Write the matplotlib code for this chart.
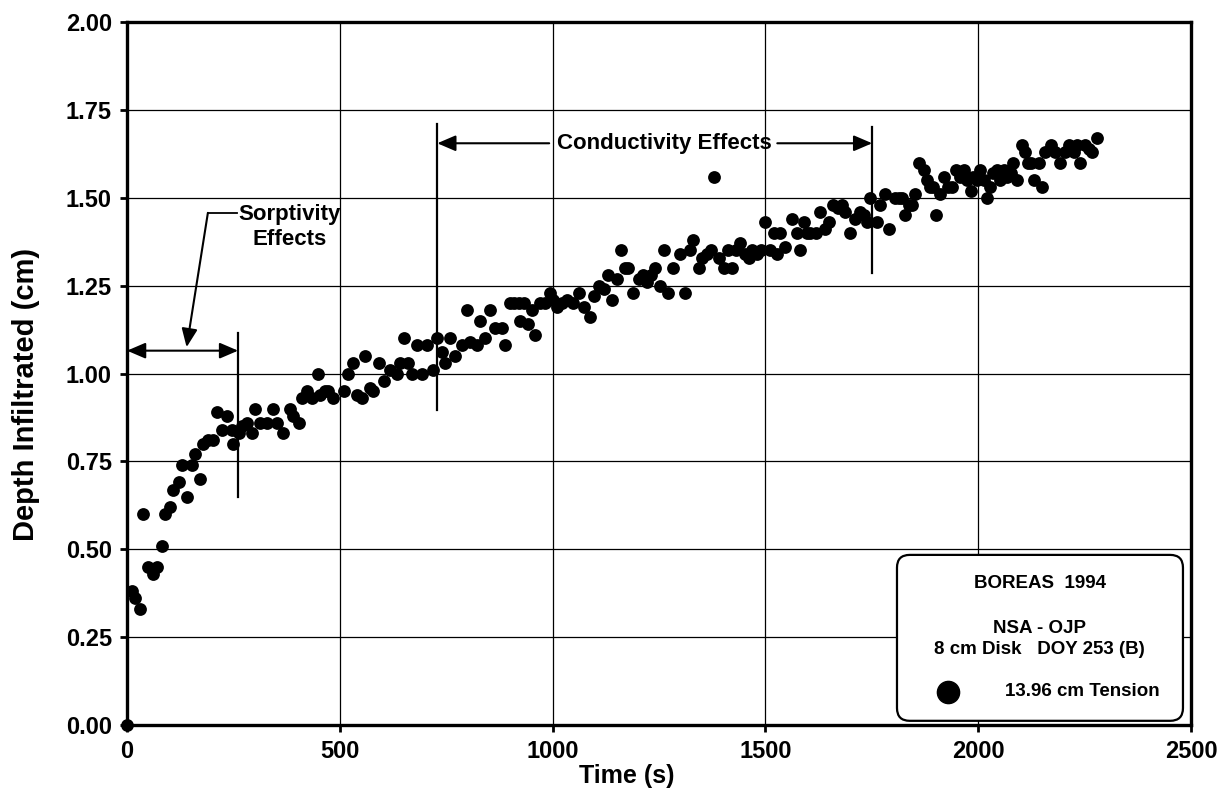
import matplotlib
matplotlib.use("Agg")
import matplotlib.pyplot as plt
from matplotlib.patches import FancyBboxPatch
from matplotlib.lines import Line2D

# --- Dados: infiltração acumulada, disco de 8 cm, DOY 253 ---
time_s = [
    0, 11, 19, 30, 38, 50, 62, 71, 82, 89, 101, 109, 121, 129, 140, 152, 160,
    172, 179, 191, 203, 211, 223, 234, 246, 250, 262, 270, 281, 293, 301, 313,
    328, 343, 352, 367, 383, 391, 403, 411, 422, 434, 449, 454, 465, 472, 485,
    509, 520, 532, 541, 552, 560, 571, 579, 591, 603, 618, 634, 642, 651, 661,
    669, 681, 693, 705, 720, 728, 740, 748, 759, 771, 787, 799, 806, 822, 830,
    842, 852, 865, 881, 889, 900, 910, 920, 924, 932, 943, 951, 959, 971, 982,
    994, 1002, 1010, 1022, 1034, 1048, 1061, 1073, 1088, 1098, 1108, 1120,
    1131, 1139, 1151, 1160, 1170, 1178, 1190, 1202, 1212, 1222, 1232, 1241,
    1253, 1262, 1272, 1284, 1300, 1312, 1322, 1331, 1343, 1352, 1363, 1372,
    1380, 1390, 1402, 1412, 1421, 1430, 1441, 1453, 1462, 1469, 1480, 1490,
    1500, 1512, 1520, 1527, 1535, 1547, 1562, 1574, 1582, 1590, 1598, 1606,
    1618, 1629, 1641, 1649, 1660, 1670, 1680, 1688, 1700, 1710, 1723, 1732,
    1739, 1746, 1762, 1770, 1782, 1790, 1805, 1813, 1821, 1829, 1838, 1845,
    1852, 1860, 1872, 1880, 1888, 1895, 1902, 1911, 1919, 1929, 1939, 1947,
    1957, 1966, 1974, 1982, 1989, 1997, 2005, 2013, 2021, 2028, 2036, 2044,
    2052, 2060, 2068, 2076, 2083, 2091, 2103, 2111, 2118, 2123, 2131, 2142,
    2150, 2158, 2170, 2181, 2193, 2203, 2213, 2225, 2232, 2240, 2252, 2260,
    2268, 2280,
]
depth_cm = [
    0.00, 0.38, 0.36, 0.33, 0.60, 0.45, 0.43, 0.45, 0.51, 0.60, 0.62, 0.67,
    0.69, 0.74, 0.65, 0.74, 0.77, 0.70, 0.80, 0.81, 0.81, 0.89, 0.84, 0.88,
    0.84, 0.80, 0.83, 0.85, 0.86, 0.83, 0.90, 0.86, 0.86, 0.90, 0.86, 0.83,
    0.90, 0.88, 0.86, 0.93, 0.95, 0.93, 1.00, 0.94, 0.95, 0.95, 0.93,
    0.95, 1.00, 1.03, 0.94, 0.93, 1.05, 0.96, 0.95, 1.03, 0.98, 1.01, 1.00,
    1.03, 1.10, 1.03, 1.00, 1.08, 1.00, 1.08, 1.01, 1.10, 1.06, 1.03, 1.10,
    1.05, 1.08, 1.18, 1.09, 1.08, 1.15, 1.10, 1.18, 1.13, 1.13, 1.08, 1.20,
    1.20, 1.20, 1.15, 1.20, 1.14, 1.18, 1.11, 1.20, 1.20,
    1.23, 1.21, 1.19, 1.20, 1.21, 1.20, 1.23, 1.19, 1.16, 1.22, 1.25, 1.24,
    1.28, 1.21, 1.27, 1.35, 1.30, 1.30, 1.23, 1.27, 1.28, 1.26, 1.28, 1.30,
    1.25, 1.35, 1.23, 1.30, 1.34, 1.23, 1.35, 1.38, 1.30, 1.33, 1.34, 1.35,
    1.56, 1.33, 1.30, 1.35, 1.30, 1.35, 1.37, 1.34, 1.33, 1.35, 1.34, 1.35,
    1.43, 1.35, 1.40, 1.34, 1.40, 1.36, 1.44, 1.40, 1.35, 1.43, 1.40, 1.40,
    1.40, 1.46, 1.41, 1.43, 1.48, 1.47, 1.48, 1.46, 1.40, 1.44, 1.46, 1.45,
    1.43, 1.50, 1.43, 1.48, 1.51, 1.41, 1.50, 1.50, 1.50, 1.45, 1.48, 1.48,
    1.51, 1.60, 1.58, 1.55, 1.53, 1.53, 1.45, 1.51, 1.56, 1.53, 1.53, 1.58,
    1.56, 1.58, 1.55, 1.52, 1.56, 1.55, 1.58, 1.55, 1.50, 1.53, 1.57, 1.58,
    1.55, 1.58, 1.56, 1.57, 1.60, 1.55, 1.65, 1.63, 1.60, 1.60, 1.55, 1.60,
    1.53, 1.63, 1.65, 1.63, 1.60, 1.63, 1.65, 1.63, 1.65, 1.60, 1.65, 1.64,
    1.63, 1.67,
]

x_ticks = [0, 500, 1000, 1500, 2000, 2500]
y_ticks = [0.00, 0.25, 0.50, 0.75, 1.00, 1.25, 1.50, 1.75, 2.00]

plt.rcParams['font.family'] = ['Liberation Sans', 'DejaVu Sans']
plt.rcParams['font.weight'] = 'bold'

fig = plt.figure(figsize=(12.25, 7.97), dpi=100)
ax = fig.add_axes([0.1037, 0.0903, 0.8685, 0.8821])

# grade
ax.set_xlim(0, 2500)
ax.set_ylim(0, 2.0)
ax.set_xticks(x_ticks)
ax.set_yticks(y_ticks)
ax.set_yticklabels([f'{v:.2f}' for v in y_ticks])
ax.grid(True, color='black', linewidth=0.9, zorder=1)
ax.set_axisbelow(True)
for s in ax.spines.values():
    s.set_linewidth(2.4)
    s.set_zorder(4)
ax.tick_params(direction='out', length=5, width=2, labelsize=17, pad=6)
for lbl in ax.get_xticklabels() + ax.get_yticklabels():
    lbl.set_fontweight('bold')

ax.set_xlabel('Time (s)', fontsize=18, fontweight='bold')
ax.xaxis.set_label_coords(0.47, -0.055)
ax.set_ylabel('Depth Infiltrated (cm)', fontsize=21, fontweight='bold')
ax.yaxis.set_label_coords(-0.082, 0.47)

ax.scatter(time_s, depth_cm, s=85, color='black', linewidths=0, zorder=3, clip_on=False)

# --- Anotações ---
arrow_kw = dict(color='black', lw=1.5, shrinkA=0, shrinkB=0, mutation_scale=16)

# efeitos de sorptividade
ax.plot([261, 261], [0.648, 1.115], color='black', lw=1.6, zorder=2)
ax.annotate('', xy=(0, 1.065), xytext=(261, 1.065),
            arrowprops=dict(arrowstyle='<|-|>,head_length=0.7,head_width=0.3', **arrow_kw))
ax.plot([258, 190], [1.457, 1.457], color='black', lw=1.3)
ax.annotate('', xy=(140, 1.075), xytext=(190, 1.457),
            arrowprops=dict(arrowstyle='-|>,head_length=0.7,head_width=0.3', **arrow_kw))
ax.text(381, 1.452, 'Sorptivity', ha='center', va='center', fontsize=16, fontweight='bold')
ax.text(381, 1.381, 'Effects', ha='center', va='center', fontsize=16, fontweight='bold')

# efeitos de condutividade
ax.plot([729, 729], [0.896, 1.71], color='black', lw=1.6, zorder=2)
ax.plot([1751, 1751], [1.287, 1.70], color='black', lw=1.6, zorder=2)
ax.annotate('', xy=(729, 1.655), xytext=(992, 1.655),
            arrowprops=dict(arrowstyle='-|>,head_length=0.7,head_width=0.3', **arrow_kw))
ax.annotate('', xy=(1751, 1.655), xytext=(1528, 1.655),
            arrowprops=dict(arrowstyle='-|>,head_length=0.7,head_width=0.3', **arrow_kw))
ax.text(1262, 1.655, 'Conductivity Effects', ha='center', va='center',
        fontsize=16, fontweight='bold')

# --- Caixa de legenda ---
box = FancyBboxPatch((0.7237, 0.006), 0.2688, 0.236, transform=ax.transAxes,
                     boxstyle='round,pad=0,rounding_size=0.012',
                     mutation_aspect=1064 / 703,
                     facecolor='white', edgecolor='black', linewidth=1.6, zorder=5)
ax.add_patch(box)
ax.text(0.858, 0.202, 'BOREAS  1994', transform=ax.transAxes, ha='center', va='center',
        fontsize=13.5, fontweight='bold', zorder=6)
ax.text(0.858, 0.138, 'NSA - OJP', transform=ax.transAxes, ha='center', va='center',
        fontsize=13.5, fontweight='bold', zorder=6)
ax.text(0.858, 0.108, '8 cm Disk   DOY 253 (B)', transform=ax.transAxes, ha='center',
        va='center', fontsize=13.5, fontweight='bold', zorder=6)
ax.add_line(Line2D([0.772], [0.047], transform=ax.transAxes, marker='o', markersize=16,
                   color='black', linestyle='none', zorder=6))
ax.text(0.825, 0.047, '13.96 cm Tension', transform=ax.transAxes, ha='left', va='center',
        fontsize=13.5, fontweight='bold', zorder=6)

fig.savefig('out.png', dpi=100)
